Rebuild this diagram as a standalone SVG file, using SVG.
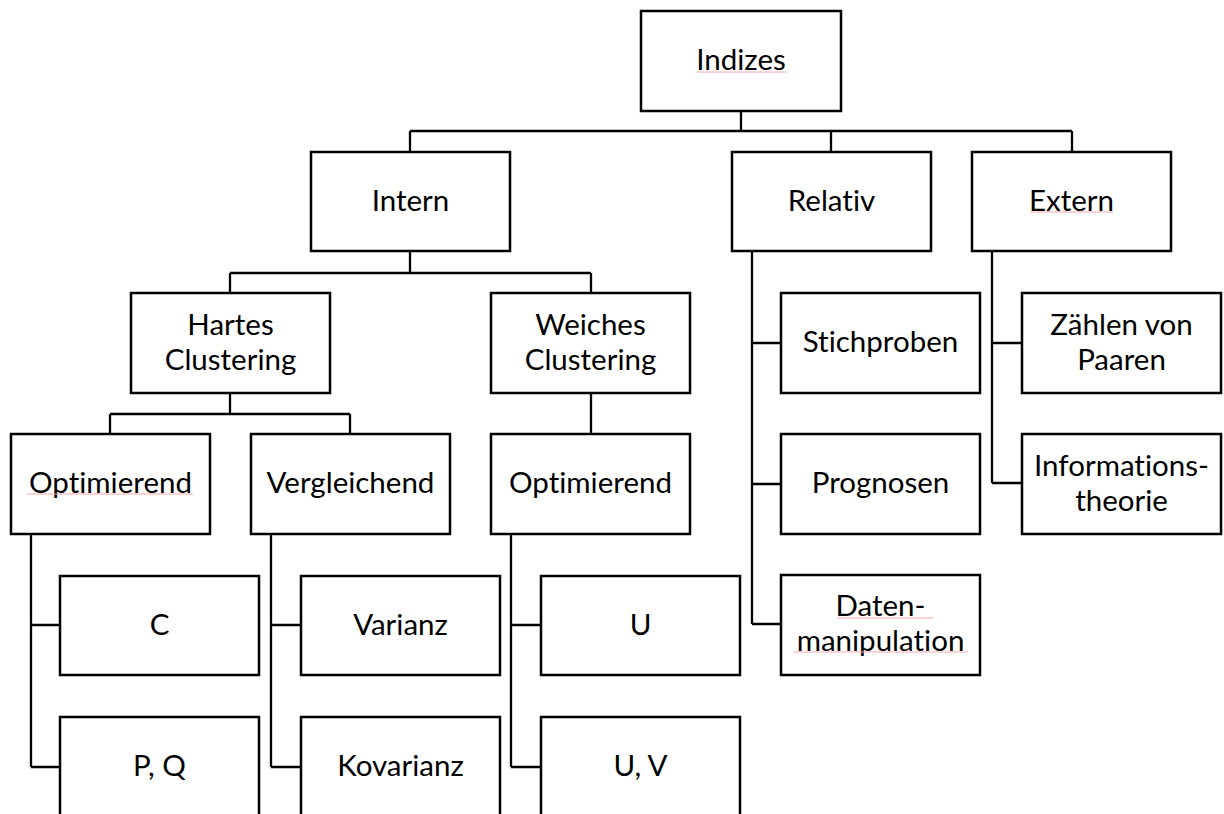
<svg xmlns="http://www.w3.org/2000/svg" width="1224" height="814" viewBox="0 0 1224 814">
<style>
.box{fill:#fff;stroke:#000;stroke-width:2.5}
.c{fill:none;stroke:#000;stroke-width:2.3}
.t{font-family:Lato,"Open Sans","Liberation Sans",sans-serif;font-size:29.5px;fill:#000;text-anchor:middle;font-variant-ligatures:none;font-feature-settings:"liga" 0}
.sp{fill:none;stroke:#f2a8a8;stroke-width:1}
</style>
<rect width="1224" height="814" fill="#fff"/>
<g id="connectors">
<path class="c" d="M741,111V131M410,131H1072M410,131V152M831,131V152M1072,131V152"/>
<path class="c" d="M410,251V273M230,273H591M230,273V293M591,273V293"/>
<path class="c" d="M230,393V414M110,414H350M110,414V434M350,414V434M591,393V434"/>
<path class="c" d="M31,534V767M31,625H60M31,767H60"/>
<path class="c" d="M271,534V767M271,625H301M271,767H301"/>
<path class="c" d="M511,534V767M511,625H541M511,767H541"/>
<path class="c" d="M752,251V624M752,343H781M752,484H781M752,624H781"/>
<path class="c" d="M992,251V483M992,343H1022M992,483H1022"/>
</g>
<g id="indizes"><rect class="box" x="641" y="11" width="200" height="100"/><text class="t" x="741" y="70">Indizes</text></g>
<g id="intern"><rect class="box" x="311" y="152" width="199" height="99"/><text class="t" x="410.5" y="211">Intern</text></g>
<g id="relativ"><rect class="box" x="732" y="152" width="199" height="99"/><text class="t" x="831.5" y="211">Relativ</text></g>
<g id="extern"><rect class="box" x="972" y="152" width="199" height="99"/><text class="t" x="1071.5" y="211">Extern</text></g>
<g id="hartes"><rect class="box" x="131" y="293" width="199" height="100"/><text class="t" x="230.5" y="335">Hartes</text><text class="t" x="230.5" y="370">Clustering</text></g>
<g id="weiches"><rect class="box" x="491" y="293" width="199" height="100"/><text class="t" x="590.5" y="335">Weiches</text><text class="t" x="590.5" y="370">Clustering</text></g>
<g id="opt-hart"><rect class="box" x="11" y="434" width="199" height="100"/><text class="t" x="110.5" y="493">Optimierend</text></g>
<g id="vergleichend"><rect class="box" x="251" y="434" width="199" height="100"/><text class="t" x="350.5" y="493">Vergleichend</text></g>
<g id="opt-weich"><rect class="box" x="491" y="434" width="199" height="100"/><text class="t" x="590.5" y="493">Optimierend</text></g>
<g id="c"><rect class="box" x="60" y="576" width="199" height="99"/><text class="t" x="159.5" y="635">C</text></g>
<g id="varianz"><rect class="box" x="301" y="576" width="199" height="99"/><text class="t" x="400.5" y="635">Varianz</text></g>
<g id="u"><rect class="box" x="541" y="576" width="199" height="99"/><text class="t" x="640.5" y="635">U</text></g>
<g id="pq"><rect class="box" x="60" y="717" width="199" height="100"/><text class="t" x="159.5" y="776">P, Q</text></g>
<g id="kovarianz"><rect class="box" x="301" y="717" width="199" height="100"/><text class="t" x="400.5" y="776">Kovarianz</text></g>
<g id="uv"><rect class="box" x="541" y="717" width="199" height="100"/><text class="t" x="640.5" y="776">U, V</text></g>
<g id="stichproben"><rect class="box" x="781" y="293" width="199" height="100"/><text class="t" x="880.5" y="352">Stichproben</text></g>
<g id="prognosen"><rect class="box" x="781" y="434" width="199" height="100"/><text class="t" x="880.5" y="493">Prognosen</text></g>
<g id="daten"><rect class="box" x="781" y="575" width="199" height="100"/><text class="t" x="880.5" y="616">Daten-</text><text class="t" x="880.5" y="651">manipulation</text></g>
<g id="zaehlen"><rect class="box" x="1022" y="293" width="199" height="100"/><text class="t" x="1121.5" y="335">Zählen von</text><text class="t" x="1121.5" y="370">Paaren</text></g>
<g id="informations"><rect class="box" x="1022" y="434" width="199" height="100"/><text class="t" x="1121.5" y="476">Informations-</text><text class="t" x="1121.5" y="511">theorie</text></g>
<g id="spellcheck"><path class="sp" d="M697,72H787M1030,212H1113M27,494H193M837,618H933M794,652H968"/></g>
</svg>
